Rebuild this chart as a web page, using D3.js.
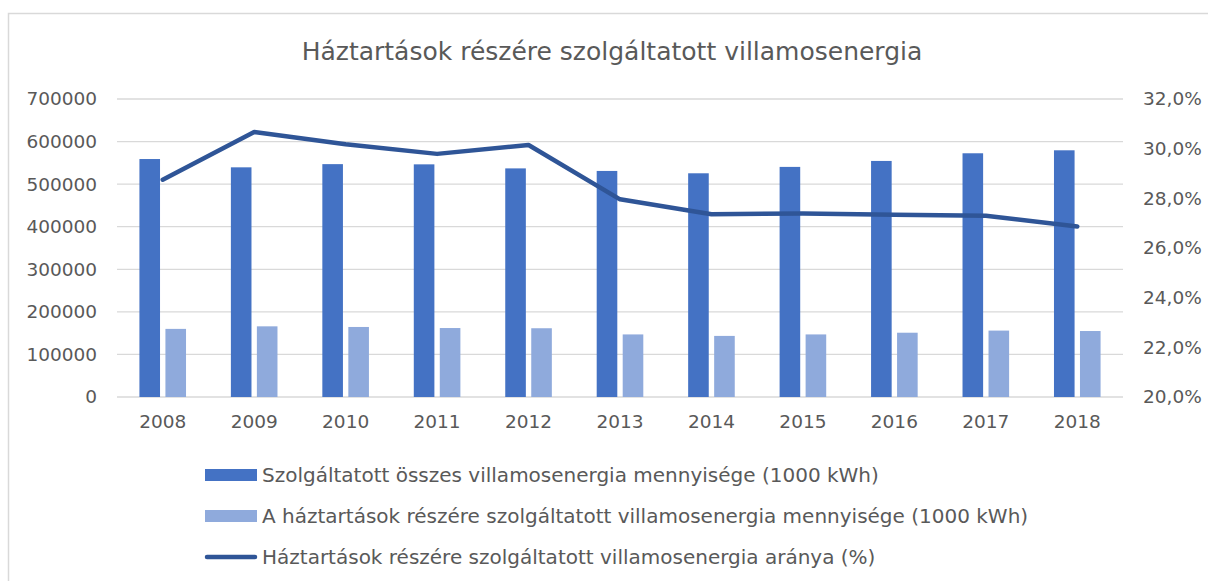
<!doctype html>
<html>
<head>
  <meta charset="utf-8">
  <title>Háztartások részére szolgáltatott villamosenergia</title>
  <script src="https://d3js.org/d3.v7.min.js"></script>
  <style>
    body { margin: 0; padding: 0; background: #fff; }
    svg text { font-family: "DejaVu Sans", Verdana, sans-serif; fill: #595959; }
    .grid line { stroke: #d9d9d9; stroke-width: 1.3; }
  </style>
</head>
<body>
<div id="container"></div>
<script>
  // values
  var years = ["2008", "2009", "2010", "2011", "2012", "2013", "2014", "2015", "2016", "2017", "2018"];
  var totalSupply = [559000, 539500, 547000, 546500, 537000, 531000, 525500, 540500, 554500, 572500, 579500];
  var householdSupply = [160000, 166000, 164500, 162000, 161500, 147000, 143500, 147000, 151000, 156000, 155000];
  var householdShare = [28.75, 30.67, 30.18, 29.79, 30.15, 27.96, 27.36, 27.39, 27.34, 27.30, 26.87];
  var leftTicks = [0, 100000, 200000, 300000, 400000, 500000, 600000, 700000];
  var rightTicks = [20, 22, 24, 26, 28, 30, 32];
  var seriesNames = [
    "Szolgáltatott összes villamosenergia mennyisége (1000 kWh)",
    "A háztartások részére szolgáltatott villamosenergia mennyisége (1000 kWh)",
    "Háztartások részére szolgáltatott villamosenergia aránya (%)"
  ];
  var title = "Háztartások részére szolgáltatott villamosenergia";

  var width = 1208, height = 581;
  var plot = {left: 117, right: 1123, top: 99, bottom: 397};

  var svg = d3.select("#container").append("svg")
      .attr("width", width)
      .attr("height", height);

  // chart frame (runs off the right/bottom edge like the screenshot)
  svg.append("rect")
      .attr("x", 8.5).attr("y", 13.5)
      .attr("width", 1400).attr("height", 800)
      .attr("fill", "none")
      .attr("stroke", "#d9d9d9")
      .attr("stroke-width", 1.5);

  svg.append("text")
      .attr("x", 612).attr("y", 60)
      .attr("text-anchor", "middle")
      .style("font-size", "25px")
      .text(title);

  var x = d3.scaleBand().domain(years).range([plot.left, plot.right]);
  var yL = d3.scaleLinear().domain([0, 700000]).range([plot.bottom, plot.top]);
  var yR = d3.scaleLinear().domain([20, 32]).range([plot.bottom, plot.top]);

  // gridlines
  svg.append("g").attr("class", "grid")
    .selectAll("line").data(leftTicks).enter().append("line")
      .attr("x1", plot.left).attr("x2", plot.right)
      .attr("y1", function(d) { return yL(d); })
      .attr("y2", function(d) { return yL(d); });

  // left axis labels
  var leftAxis = d3.axisLeft(yL).tickValues(leftTicks).tickSize(0).tickPadding(20)
      .tickFormat(d3.format("d"));
  var gl = svg.append("g").attr("transform", "translate(" + plot.left + ",0)").call(leftAxis);
  gl.select(".domain").remove();
  gl.selectAll("text").style("font-size", "18.5px").style("font-family", null).attr("fill", null);

  // right axis labels
  var pct = function(d) { return d3.format(".1f")(d).replace(".", ",") + "%"; };
  var rightAxis = d3.axisRight(yR).tickValues(rightTicks).tickSize(0).tickPadding(20).tickFormat(pct);
  var gr = svg.append("g").attr("transform", "translate(" + plot.right + ",0)").call(rightAxis);
  gr.select(".domain").remove();
  gr.selectAll("text").style("font-size", "18.5px").style("font-family", null).attr("fill", null);

  // bottom axis labels
  var bottomAxis = d3.axisBottom(x).tickSize(0).tickPadding(18);
  var gb = svg.append("g").attr("transform", "translate(0," + plot.bottom + ")").call(bottomAxis);
  gb.select(".domain").remove();
  gb.selectAll("text").style("font-size", "18.5px").style("font-family", null).attr("fill", null);

  // bars
  var barW = 20.6, gap = 5.4;
  var bars = svg.append("g");
  bars.selectAll("rect.total").data(years).enter().append("rect")
      .attr("class", "total")
      .attr("x", function(d) { return x(d) + x.bandwidth() / 2 - gap / 2 - barW; })
      .attr("y", function(d, i) { return yL(totalSupply[i]); })
      .attr("width", barW)
      .attr("height", function(d, i) { return yL(0) - yL(totalSupply[i]); })
      .attr("fill", "#4472c4");
  bars.selectAll("rect.household").data(years).enter().append("rect")
      .attr("class", "household")
      .attr("x", function(d) { return x(d) + x.bandwidth() / 2 + gap / 2; })
      .attr("y", function(d, i) { return yL(householdSupply[i]); })
      .attr("width", barW)
      .attr("height", function(d, i) { return yL(0) - yL(householdSupply[i]); })
      .attr("fill", "#8faadc");

  // share line on the right axis
  var line = d3.line()
      .x(function(d, i) { return x(years[i]) + x.bandwidth() / 2; })
      .y(function(d) { return yR(d); });
  svg.append("path")
      .datum(householdShare)
      .attr("d", line)
      .attr("fill", "none")
      .attr("stroke", "#2f5597")
      .attr("stroke-width", 4.5)
      .attr("stroke-linejoin", "round")
      .attr("stroke-linecap", "round");

  // legend
  var legend = svg.append("g").attr("transform", "translate(205,0)");
  var rows = [475, 516, 557];
  legend.append("rect").attr("x", 0).attr("y", rows[0] - 6).attr("width", 52).attr("height", 12).attr("fill", "#4472c4");
  legend.append("rect").attr("x", 0).attr("y", rows[1] - 6).attr("width", 52).attr("height", 12).attr("fill", "#8faadc");
  legend.append("line").attr("x1", 2).attr("x2", 50).attr("y1", rows[2]).attr("y2", rows[2])
      .attr("stroke", "#2f5597").attr("stroke-width", 4.5).attr("stroke-linecap", "round");
  legend.selectAll("text").data(seriesNames).enter().append("text")
      .attr("x", 57)
      .attr("y", function(d, i) { return rows[i]; })
      .attr("dy", "0.35em")
      .style("font-size", "20px")
      .text(function(d) { return d; });
</script>
</body>
</html>
